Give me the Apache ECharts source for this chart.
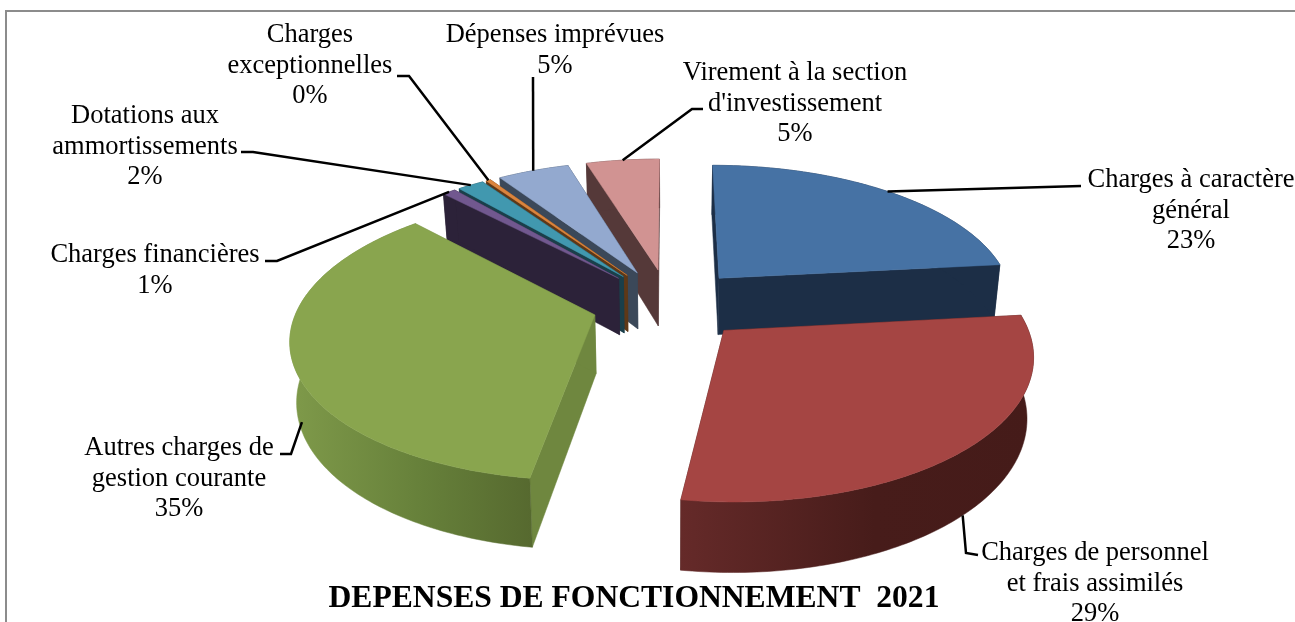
<!DOCTYPE html>
<html>
<head>
<meta charset="utf-8">
<title>Dépenses de fonctionnement 2021</title>
<script src="https://cdn.jsdelivr.net/npm/echarts@6/dist/echarts.min.js"></script>
<style>
  html, body { margin: 0; padding: 0; background: #fff; }
  #chart { width: 1295px; height: 622px; }
</style>
</head>
<body>
<div id="chart"></div>
<script>
// data
const categories = [
  "Charges à caractère\ngénéral",
  "Charges de personnel\net frais assimilés",
  "Autres charges de\ngestion courante",
  "Charges financières",
  "Dotations aux\nammortissements",
  "Charges\nexceptionnelles",
  "Dépenses imprévues",
  "Virement à la section\nd'investissement"
];
const values = [23.3, 29.05, 35.49, 0.85, 1.7, 0.3, 4.6, 4.71];
const chartTitle = "DEPENSES DE FONCTIONNEMENT  2021";

// couleurs
const topColors = ["#4672a4", "#a54543", "#89a54e", "#71588f", "#4198af", "#db843d", "#93a9cf", "#d19392"];
const wallColors = ["#1c2e46", "#451c1a", "#6f873f", "#2c2239", "#1a3f4a", "#5e3817", "#3b4859", "#553939"];
const arcGradients = {
  1: ["#652a29", "#471c1a", "#451b19"],
  2: ["#7f9a4a", "#66803a", "#56692f"]
};

// position du texte : centre x, y de la 1ere ligne ; coude et fin du trait
const labelPos = [
  { x: 1191, y: 180, line: [[1081, 186]], depth: 0, turn: 0 },
  { x: 1095, y: 553, line: [[978, 555], [966, 553]], depth: 1, turn: 0 },
  { x: 179, y: 448, line: [[280, 454], [291, 454]], depth: 0.8, turn: -5 },
  { x: 155, y: 255, line: [[265, 261], [277, 261]], depth: 0, turn: 0 },
  { x: 145, y: 116, line: [[241, 152], [253, 152]], depth: 0, turn: 0 },
  { x: 310, y: 35, line: [[397, 76], [409, 76]], depth: 0, turn: 0 },
  { x: 555, y: 35, line: [[533, 77]], depth: 0, turn: 0 },
  { x: 795, y: 73, line: [[703, 109], [692, 109]], depth: 0, turn: 0 }
];

const CX = 669, CY = 304, RX = 296, RY = 137;
const PERSP = 0.15, EXPLODE = 0.26, DEPTH = 58, SHRINK = 0.982;
const FONT = "'Liberation Serif', 'Times New Roman', serif";
const total = values.reduce((a, b) => a + b, 0);

// disque -> ecran, z = 0 dessus, z = 1 dessous
function project(u, v, z) {
  let p = 1 / (1 + PERSP * v);
  let x = CX + RX * u * p;
  let y = CY - RY * v * p;
  if (z) {
    x = CX + (x - CX) * (1 - (1 - SHRINK) * z);
    y = y + DEPTH * p * z;
  }
  return [x, y];
}

function sliceAngles(index) {
  let before = 0;
  for (let i = 0; i < index; i++) before += values[i];
  let start = before / total * Math.PI * 2;
  return [start, start + values[index] / total * Math.PI * 2];
}

function slicePoint(index, theta, r, z) {
  let a = sliceAngles(index);
  let mid = (a[0] + a[1]) / 2;
  let u = r * Math.sin(theta) + EXPLODE * Math.sin(mid);
  let v = r * Math.cos(theta) + EXPLODE * Math.cos(mid);
  return project(u, v, z);
}

function arcPoints(index, z) {
  let a = sliceAngles(index);
  let n = Math.max(2, Math.ceil((a[1] - a[0]) * 60));
  let pts = [];
  for (let i = 0; i <= n; i++) {
    pts.push(slicePoint(index, a[0] + (a[1] - a[0]) * i / n, 1, z));
  }
  return pts;
}

// ordre de dessin : du fond vers l'avant
const drawRank = values.map((_, i) => {
  let a = sliceAngles(i);
  return { i: i, v: Math.cos((a[0] + a[1]) / 2) };
}).sort((p, q) => q.v - p.v).reduce((acc, item, rank) => {
  acc[item.i] = rank;
  return acc;
}, {});

function renderSlice(params, api) {
  let i = params.dataIndex;
  let base = drawRank[i] * 10;
  let wall = wallColors[i];
  let apexTop = slicePoint(i, 0, 0, 0);
  let apexBot = slicePoint(i, 0, 0, 1);
  let top = arcPoints(i, 0);
  let bot = arcPoints(i, 1);
  let first = top[0], last = top[top.length - 1];
  let firstBot = bot[0], lastBot = bot[bot.length - 1];
  let arcFill = wall;
  if (arcGradients[i]) {
    let g = arcGradients[i];
    arcFill = new echarts.graphic.LinearGradient(0, 0, 1, 0, [
      { offset: 0, color: g[0] }, { offset: 0.55, color: g[1] }, { offset: 1, color: g[2] }
    ]);
  }
  let poly = function (points, fill, z2) {
    return { type: "polygon", z2: base + z2, shape: { points: points }, style: { fill: fill, stroke: fill, lineWidth: 0.5 } };
  };
  return {
    type: "group",
    children: [
      poly([apexTop, first, firstBot, apexBot], wall, 1),
      poly([apexTop, last, lastBot, apexBot], wall, 2),
      poly(top.concat(bot.slice().reverse()), arcFill, 3),
      poly([apexTop].concat(top), topColors[i], 4)
    ]
  };
}

function renderLabel(params, api) {
  let i = params.dataIndex;
  let pos = labelPos[i];
  let a = sliceAngles(i);
  let end = slicePoint(i, (a[0] + a[1]) / 2 + pos.turn * Math.PI / 180, 1, pos.depth);
  let pct = Math.round(values[i] / total * 100) + "%";
  return {
    type: "group",
    children: [
      {
        type: "polyline", z2: 200,
        shape: { points: pos.line.concat([end]) },
        style: { fill: null, stroke: "#000", lineWidth: 2.5 }
      },
      {
        type: "text", z2: 201, x: pos.x, y: pos.y - 15,
        style: {
          text: categories[i] + "\n" + pct,
          fill: "#000", font: "26.5px " + FONT,
          lineHeight: 30.5, align: "center", verticalAlign: "top"
        }
      }
    ]
  };
}

const chart = echarts.init(document.getElementById("chart"));
chart.setOption({
  animation: false,
  backgroundColor: "#fff",
  title: {
    text: chartTitle, left: 629, top: 578, textAlign: "center",
    textStyle: { fontFamily: FONT, fontSize: 31.6, fontWeight: "bold", color: "#000" }
  },
  graphic: [
    { type: "polyline", shape: { points: [[6, 622], [6, 11], [1295, 11]] }, style: { fill: null, stroke: "#8c8c8c", lineWidth: 2 } }
  ],
  series: [
    { type: "custom", coordinateSystem: "none", renderItem: renderSlice, data: values, silent: true },
    { type: "custom", coordinateSystem: "none", renderItem: renderLabel, data: values, silent: true, z: 3 }
  ]
});
</script>
</body>
</html>
